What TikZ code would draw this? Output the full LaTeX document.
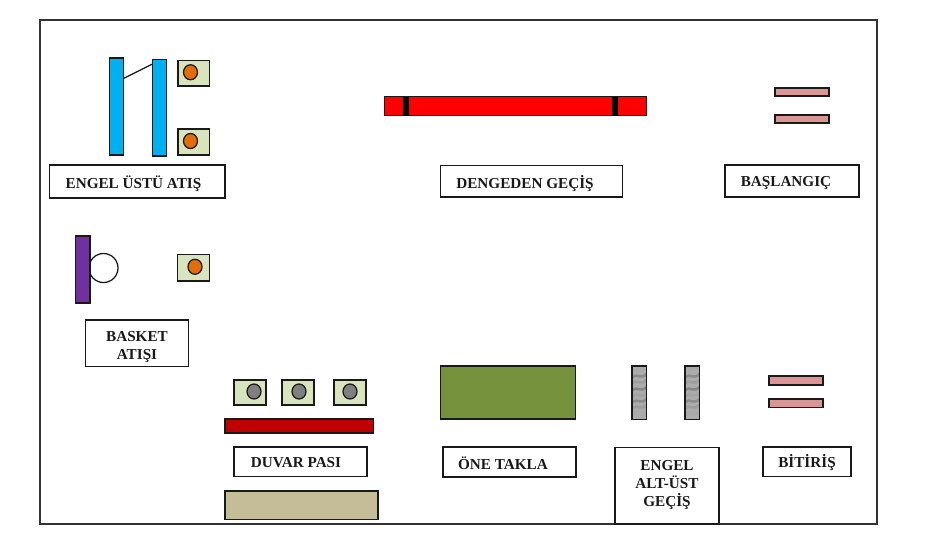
\documentclass[tikz,border=0pt]{standalone}
\usepackage{fontspec}
\setmainfont{Liberation Serif}
\definecolor{barblue}{HTML}{00B0F0}
\definecolor{padgreen}{HTML}{D7E4BD}
\definecolor{ballorange}{HTML}{E46C0A}
\definecolor{ballgray}{HTML}{7F7F7F}
\definecolor{pinkbar}{HTML}{D99694}
\definecolor{wallred}{HTML}{C00000}
\definecolor{tan}{HTML}{C4BD97}
\definecolor{matgreen}{HTML}{76923C}
\definecolor{hoopviolet}{HTML}{7030A0}
\newcommand{\boxat}[5]{\draw[#5] (#1,#2) rectangle (#3,#4);}
\newcommand{\padball}[6]{%
  \draw[shapeline,fill=padgreen] (#1,#2) rectangle (#3,#4);
  \draw[shapeline,fill=#5] (#6,{(#2+#4)/2-1}) ellipse [x radius=7,y radius=7.5];}
\newcommand{\stonebar}[4]{%
  \begin{scope}
    \clip (#1,#2) rectangle (#3,#4);
    \fill[gray!65] (#1,#2) rectangle (#3,#4);
    \foreach \yy/\cc in {4/35,11/60,17/45,24/65,30/40,36/60,42/45,48/35}{
      \draw[black!\cc!white,line width=2.6pt,opacity=.45] (#1,{#2+\yy})
        .. controls ({#1+5},{#2+\yy-4}) and ({#1+9},{#2+\yy+3}) .. (#3,{#2+\yy-3});
    }
  \end{scope}
  \draw[shapeline] (#1,#2) rectangle (#3,#4);}
% name, x, y, width, height, text dx, text dy (down), text
\newcommand{\labelbox}[8]{%
  \node[label frame,minimum width=#4pt,minimum height=#5pt] (#1) at (#2,#3) {};
  \node[label text] (#1text) at ([xshift=#6pt,yshift=-#7pt]#1.center) {#8};}
\tikzset{
  shapeline/.style={draw=black!90,line width=1.25pt},
  label frame/.style={draw=black!90,fill=white,line width=1.25pt,inner sep=0pt},
  label text/.style={inner sep=0pt,align=center,
    font=\bfseries\fontsize{15.2}{18}\selectfont,text=black!90},
}
\begin{document}
\begin{tikzpicture}[x=1pt,y=-1pt]
\useasboundingbox (0,0) rectangle (929,552);
\fill[white] (0,0) rectangle (929,552);
\draw[draw=black!80,line width=1.25pt] (40,20) rectangle (877,524);
% engel ustu atis
\coordinate (linkA) at (123.5,78.5);
\coordinate (linkB) at (152.5,64);
\draw[shapeline] (linkA) -- (linkB);
\boxat{109.5}{58}{123.5}{155}{shapeline,fill=barblue}
\boxat{152.5}{59.5}{166.5}{156}{shapeline,fill=barblue}
\padball{178}{60.5}{209.5}{86}{ballorange}{190.5}
\padball{178}{129}{209.5}{155}{ballorange}{190.5}
\labelbox{engelustu}{137.25}{181.5}{175.5}{33}{-3.75}{2}{ENGEL ÜSTÜ ATIŞ}
% denge
\boxat{384.5}{96.5}{646.5}{115.5}{shapeline,fill=red}
\fill[black] (403,96.5) rectangle (409,115.5);
\fill[black] (612,96.5) rectangle (618,115.5);
\labelbox{denge}{531.5}{181.25}{182}{31.5}{-6.5}{2}{DENGEDEN GEÇİŞ}
% baslangic
\boxat{775}{88}{829}{96}{shapeline,fill=pinkbar}
\boxat{775}{115}{829}{123}{shapeline,fill=pinkbar}
\labelbox{baslangic}{792}{181}{134}{32}{-6}{2.5}{BAŞLANGIÇ}
% basket
\draw[shapeline] (103.5,268) circle (14.5);
\boxat{75.5}{236}{90}{303}{shapeline,fill=hoopviolet}
\padball{177.5}{254.5}{209.5}{281}{ballorange}{195}
\labelbox{basket}{137}{343.25}{103}{46.5}{0}{4}{BASKET\\ATIŞI}
% duvar pasi
\padball{234}{380}{266}{405}{ballgray}{254}
\padball{282}{380}{314}{405}{ballgray}{299}
\padball{334}{380}{366}{405}{ballgray}{350}
\boxat{225}{419}{373.5}{433}{shapeline,fill=wallred}
\labelbox{duvar}{300.5}{461.75}{133}{29.5}{-4.5}{1}{DUVAR PASI}
\boxat{225}{491}{378}{519.5}{shapeline,fill=tan}
% one takla
\boxat{440.5}{366}{575.5}{419}{shapeline,fill=matgreen}
\labelbox{takla}{509.5}{462}{133}{30}{-6.5}{1}{ÖNE TAKLA}
% engel alt-ust
\stonebar{632}{366}{646.5}{419.5}
\stonebar{685}{366}{699.5}{419.5}
\labelbox{engelalt}{667}{485.75}{104}{76.5}{0}{-1}{ENGEL\\ALT-ÜST\\GEÇİŞ}
% bitiris
\boxat{769}{376}{823}{385}{shapeline,fill=pinkbar}
\boxat{769}{399}{823}{407.5}{shapeline,fill=pinkbar}
\labelbox{bitiris}{807}{461.75}{88}{29.5}{0}{1}{BİTİRİŞ}
\end{tikzpicture}
\end{document}
